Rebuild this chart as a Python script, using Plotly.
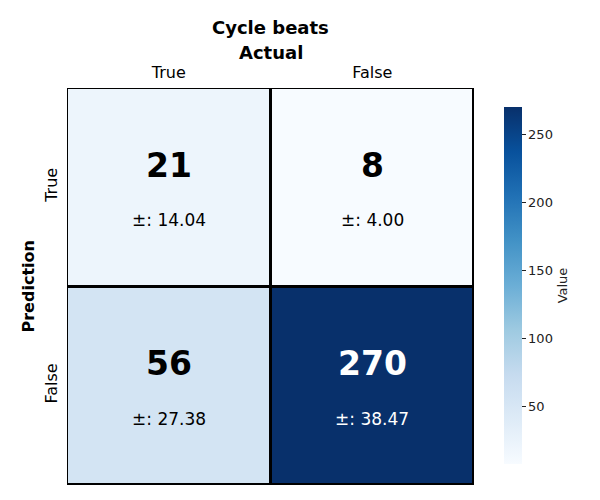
import plotly.graph_objects as go
import plotly.express as px

x_labels = ["True", "False"]   # Actual
y_labels = ["True", "False"]   # Prediction
counts = [[21, 8], [56, 270]]
stds = [[14.04, 4.00], [27.38, 38.47]]
cbar_ticks = [50, 100, 150, 200, 250]

FONT = "DejaVu Sans"
OFF = 8  # page body margin
W, H = 600 - OFF, 500 - OFF
PL, PR, PT, PB = 67, 474, 88, 485   # plot area in page pixels
L, T = PL - OFF, PT - OFF
plot_w = PR - PL
plot_h = PB - PT
R = W - L - plot_w
B = H - T - plot_h

fig = go.Figure(go.Heatmap(
    z=counts, x=x_labels, y=y_labels,
    colorscale=px.colors.sequential.Blues,
    zmin=min(min(r) for r in counts), zmax=max(max(r) for r in counts),
    xgap=3, ygap=3,
    hoverinfo="skip",
    colorbar=dict(
        thickness=18, len=357, lenmode="pixels",
        x=1 + (504 - PR) / plot_w, xanchor="left", xpad=0,
        y=(PB - 285.5) / plot_h, yanchor="middle", ypad=0,
        outlinewidth=0,
        ticks="outside", ticklen=4, tickwidth=1, tickcolor="#222",
        tickvals=cbar_ticks, tickprefix="\u00a0",
        tickfont=dict(family=FONT, size=13, color="#222"),
        title=dict(text="Value", side="right", font=dict(family=FONT, size=13, color="#222")),
    ),
))

zmax = max(max(r) for r in counts)
for i, yl in enumerate(y_labels):
    for j, xl in enumerate(x_labels):
        col = "white" if counts[i][j] > zmax * 0.6 else "black"
        fig.add_annotation(x=xl, y=yl, text=f"<b>{counts[i][j]}</b>", showarrow=False,
                           yshift=22, font=dict(family=FONT, size=33, color=col))
        fig.add_annotation(x=xl, y=yl, text=f"±: {stds[i][j]:.2f}", showarrow=False,
                           yshift=-33, font=dict(family=FONT, size=17, color=col))

fig.add_annotation(xref="paper", yref="paper", x=0.5, y=1 + (PT - 28) / plot_h,
                   text="<b>Cycle beats</b>", showarrow=False, xanchor="center", yanchor="middle",
                   font=dict(family=FONT, size=18, color="black"))
fig.add_annotation(xref="paper", yref="paper", x=0.5, y=1 + (PT - 53) / plot_h,
                   text="<b>Actual</b>", showarrow=False, xanchor="center", yanchor="middle",
                   font=dict(family=FONT, size=18, color="black"))
fig.add_annotation(xref="paper", yref="paper", x=(28 - PL) / plot_w, y=0.5,
                   text="<b>Prediction</b>", showarrow=False, textangle=-90,
                   xanchor="center", yanchor="middle",
                   font=dict(family=FONT, size=16, color="black"))

fig.update_layout(
    width=W, height=H,
    margin=dict(l=L, r=R, t=T, b=B),
    paper_bgcolor="white", plot_bgcolor="black",
    font=dict(family=FONT),
    xaxis=dict(side="top", showgrid=False, zeroline=False, ticks="",
               ticklabelstandoff=6,
               tickfont=dict(family=FONT, size=16, color="black")),
    yaxis=dict(autorange="reversed", showgrid=False, zeroline=False, ticks="",
               tickangle=-90, ticklabelstandoff=6,
               tickfont=dict(family=FONT, size=16, color="black")),
)

fig.write_html("out.html")
